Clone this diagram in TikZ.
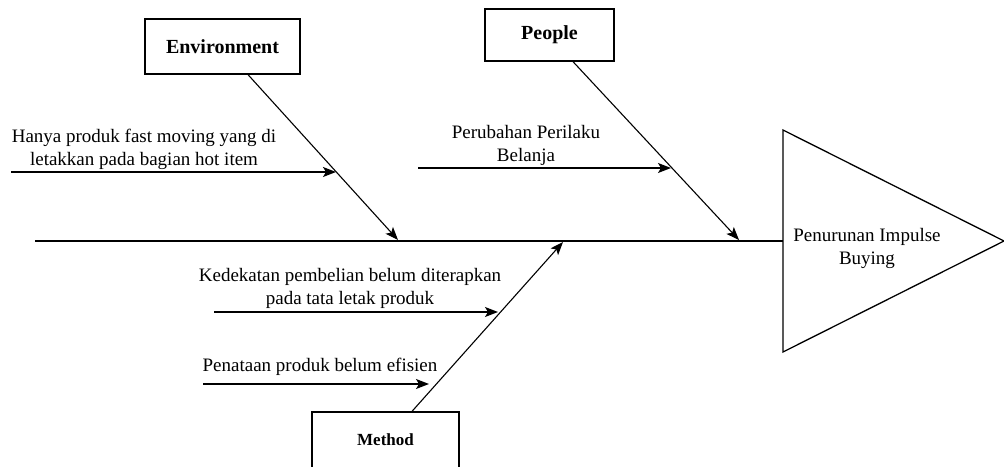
\documentclass[tikz,border=0pt]{standalone}
\usepackage{fontspec}
\setmainfont{Liberation Serif}
\usetikzlibrary{arrows.meta}
\begin{document}
\begin{tikzpicture}[x=1pt,y=-1pt,
  line width=1.3pt,
  catbox/.style={draw,rectangle,inner sep=0pt,font=\fontsize{20}{24}\selectfont\bfseries},
  lbl/.style={align=center,inner sep=0pt,font=\fontsize{19}{23}\selectfont},
  arr/.style={-{Stealth[length=13pt,width=10pt,inset=3pt]}}]
\useasboundingbox (0,0) rectangle (1004,466);
% head
\coordinate (tl) at (783,130);
\coordinate (tb) at (783,352);
\coordinate (tip) at (1004,241);
\draw (tl) -- (tip) -- (tb) -- cycle;
\node[lbl] (effect) at (867,248) {Penurunan Impulse\\Buying};
% spine
\coordinate (tail) at (35,241);
\coordinate (head) at (783,241);
\draw (tail) -- (head);
% category boxes
\node[catbox,minimum width=155pt,minimum height=55pt] (env) at (222.5,46.5) {Environment};
\node[catbox,minimum width=129pt,minimum height=52pt] (people) at (549.5,35) {People};
\node[catbox,minimum width=147pt,minimum height=56pt,font=\fontsize{17}{20}\selectfont\bfseries] (method) at (385.5,440) {Method};
% bone ends on spine
\coordinate (envend) at (398,240);
\coordinate (peopleend) at (739,240);
\coordinate (methodend) at (563,242);
\draw[arr,line width=1.1pt] ([xshift=25.5pt]env.south) -- (envend);
\draw[arr,line width=1.1pt] ([xshift=23.5pt]people.south) -- (peopleend);
\draw[arr,line width=1.1pt] ([xshift=26.5pt]method.north) -- (methodend);
% causes
\coordinate (c1s) at (11,172);  \coordinate (c1e) at (336,172);
\coordinate (c2s) at (418,168); \coordinate (c2e) at (671,168);
\coordinate (c3s) at (214,312); \coordinate (c3e) at (498,312);
\coordinate (c4s) at (203,384); \coordinate (c4e) at (429,384);
\draw[arr] (c1s) -- (c1e);
\draw[arr] (c2s) -- (c2e);
\draw[arr] (c3s) -- (c3e);
\draw[arr] (c4s) -- (c4e);
\node[lbl] (t1) at (144,149) {Hanya produk fast moving yang di\\letakkan pada bagian hot item};
\node[lbl] (t2) at (526,145) {Perubahan Perilaku\\Belanja};
\node[lbl] (t3) at (350,288) {Kedekatan pembelian belum diterapkan\\pada tata letak produk};
\node[lbl] (t4) at (320,367) {Penataan produk belum efisien};
\end{tikzpicture}
\end{document}
